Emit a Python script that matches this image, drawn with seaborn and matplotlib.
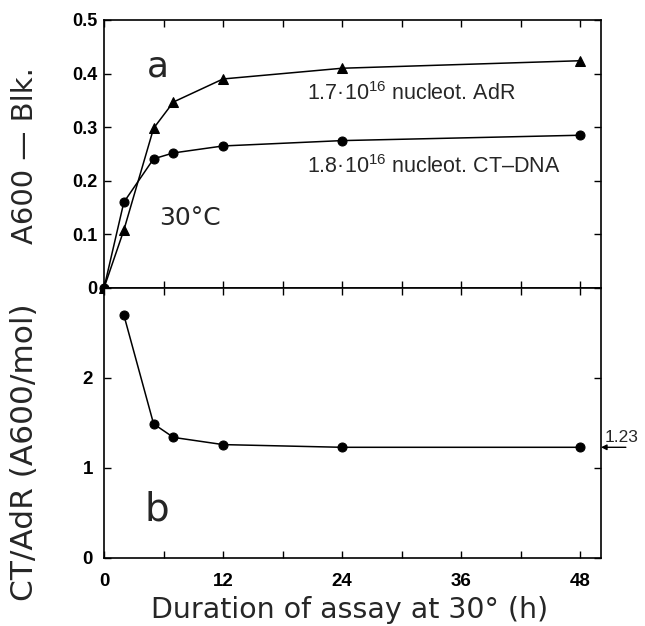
"""A600 development of AdR vs CT-DNA and their ratio over assay duration."""
import matplotlib

matplotlib.use("Agg")
import matplotlib.pyplot as plt
import seaborn as sns

# panel a: absorbance minus blank
time_h = [0, 2, 5, 7, 12, 24, 48]
adr_a600 = [0.0, 0.108, 0.298, 0.347, 0.390, 0.410, 0.424]
ctdna_a600 = [0.0, 0.160, 0.241, 0.252, 0.265, 0.275, 0.285]

# panel b: CT/AdR ratio
ratio_time_h = [2, 5, 7, 12, 24, 48]
ct_adr_ratio = [2.70, 1.49, 1.34, 1.26, 1.23, 1.23]

x_major = [0, 12, 24, 36, 48]
x_all = [0, 6, 12, 18, 24, 30, 36, 42, 48]
top_yticks = [0, 0.1, 0.2, 0.3, 0.4, 0.5]
top_ylabels = ["0", "0.1", "0.2", "0.3", "0.4", "0.5"]
bot_yticks = [0, 1, 2, 3]
bot_ylabels = ["0", "1", "2", ""]

sns.set_style("ticks")
plt.rcParams["font.family"] = ["DejaVu Sans"]
plt.rcParams["mathtext.fontset"] = "custom"
plt.rcParams["mathtext.rm"] = "Liberation Sans"
plt.rcParams["mathtext.it"] = "Liberation Sans"

fig = plt.figure(figsize=(6.45, 6.26), dpi=100)
left, right = 104 / 645, 601 / 645
y_top, y_mid, y_bot = 1 - 20 / 626, 1 - 288 / 626, 1 - 558 / 626
ax_a = fig.add_axes([left, y_mid, right - left, y_top - y_mid])
ax_b = fig.add_axes([left, y_bot, right - left, y_mid - y_bot], sharex=ax_a)

line_kw = dict(color="black", linewidth=1.1, markeredgecolor="black", markersize=6.5,
               clip_on=False, zorder=5)
sns.lineplot(x=time_h, y=adr_a600, marker="^", ax=ax_a, **line_kw)
sns.lineplot(x=time_h, y=ctdna_a600, marker="o", ax=ax_a, **line_kw)
sns.lineplot(x=ratio_time_h, y=ct_adr_ratio, marker="o", ax=ax_b, **line_kw)

tick_font = {"family": "Liberation Sans", "weight": "bold"}
for ax in (ax_a, ax_b):
    ax.set_xlim(0, 50.1)
    ax.set_xticks(x_all)
    ax.tick_params(direction="in", length=5, width=1, top=True, right=True, colors="black")
    for s in ax.spines.values():
        s.set_linewidth(1.2)
        s.set_color("black")
    ax.set_xlabel("")
    ax.set_ylabel("")

ax_a.set_ylim(0, 0.5)
ax_a.set_yticks(top_yticks)
ax_a.set_yticklabels(top_ylabels, fontdict=tick_font, fontsize=13)
ax_a.tick_params(axis="y", pad=5)
ax_a.tick_params(axis="x", labelbottom=False)

ax_b.set_ylim(0, 3)
ax_b.set_yticks(bot_yticks)
ax_b.set_yticklabels(bot_ylabels, fontdict=tick_font, fontsize=13.5)
ax_b.tick_params(axis="y", pad=8)
ax_b.set_xticklabels(["0" if t == 0 else (str(t) if t in x_major else "") for t in x_all],
                     fontdict=tick_font, fontsize=13.5)
ax_b.tick_params(axis="x", pad=11)

ax_a.text(5.45, 0.414, "a", fontsize=26, ha="center", va="center")
ax_a.text(8.7, 0.131, "30°C", fontsize=18, ha="center", va="center")
ax_b.text(5.35, 0.54, "b", fontsize=28, ha="center", va="center")

ax_a.text(20.5, 0.350, "1.7·10$^{16}$ nucleot. AdR", family="Liberation Sans",
          fontsize=15.5, ha="left", va="baseline")
ax_a.text(20.5, 0.215, "1.8·10$^{16}$ nucleot. CT–DNA", family="Liberation Sans",
          fontsize=15.5, ha="left", va="baseline")

ax_b.annotate("", xy=(1.0, 1.23), xycoords=("axes fraction", "data"),
              xytext=(1.05, 1.23), textcoords=("axes fraction", "data"),
              arrowprops=dict(arrowstyle="-|>", color="black", lw=1, mutation_scale=8,
                              shrinkA=0, shrinkB=0),
              annotation_clip=False)
ax_b.text(1.008, 1.29, "1.23", transform=ax_b.get_yaxis_transform(),
          family="Liberation Sans", fontsize=12.5, ha="left", va="baseline", clip_on=False)

fig.text(25 / 645, 1 - 156 / 626, "A600 — Blk.", rotation=90, fontsize=21,
         ha="center", va="center")
fig.text(25 / 645, 1 - 452 / 626, "CT/AdR (A600/mol)", rotation=90, fontsize=22.5,
         ha="center", va="center")
fig.text(350 / 645, 1 - 610 / 626, "Duration of assay at 30° (h)", fontsize=20.5,
         ha="center", va="center")

fig.savefig("out.png", dpi=100)
plt.close(fig)
